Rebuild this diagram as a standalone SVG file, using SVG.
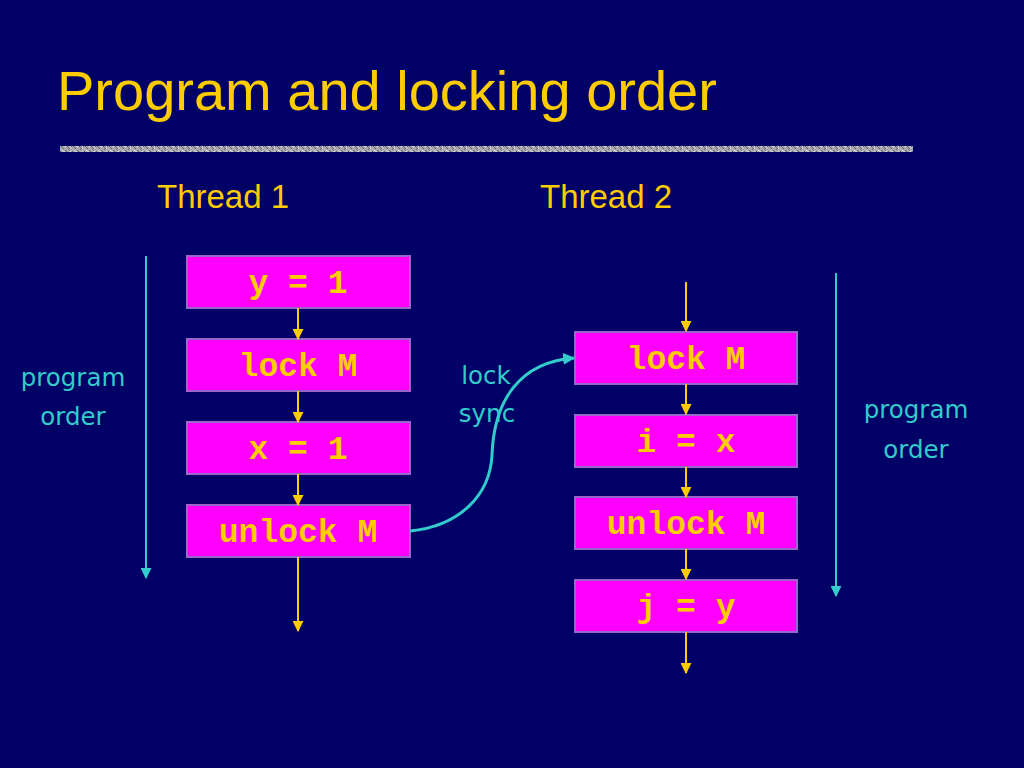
<svg xmlns="http://www.w3.org/2000/svg" width="1024" height="768" viewBox="0 0 1024 768">
<defs>
<style>
.box{fill:#FF00FF;stroke:#9966CC;stroke-width:2}
.code{font-family:"Liberation Mono",monospace;font-weight:bold;font-size:33px;fill:#FFCC00;text-anchor:middle}
.lab{font-family:"DejaVu Sans",sans-serif;font-size:24.5px;fill:#33CCCC;text-anchor:middle}
.thr{font-family:"Liberation Sans",Arial,sans-serif;font-size:33px;fill:#FFCC00}
.ya{stroke:#FFCC00;stroke-width:2;fill:none;marker-end:url(#ay)}
.ca{stroke:#33CCCC;stroke-width:2;fill:none;marker-end:url(#ac)}
</style>
<marker id="ay" viewBox="0 0 10 10" refX="9" refY="5" markerWidth="5.5" markerHeight="5.5" orient="auto" markerUnits="strokeWidth"><path d="M0,0 L10,5 L0,10 z" fill="#FFCC00"/></marker>
<marker id="ac" viewBox="0 0 10 10" refX="9" refY="5" markerWidth="5.5" markerHeight="5.5" orient="auto" markerUnits="strokeWidth"><path d="M0,0 L10,5 L0,10 z" fill="#33CCCC"/></marker>
<marker id="ac3" viewBox="0 0 10 10" refX="9" refY="5" markerWidth="4" markerHeight="4" orient="auto" markerUnits="strokeWidth"><path d="M0,0 L10,5 L0,10 z" fill="#33CCCC"/></marker>
<pattern id="tex" width="12" height="6" patternUnits="userSpaceOnUse"><rect width="12" height="6" fill="#A8A8B0"/><path d="M0,1 L4,5 M5,0 L9,4 M8,6 L12,2" stroke="#606068" stroke-width="1"/><path d="M2,0 L6,3 M10,1 L11,5" stroke="#E0E0E8" stroke-width="1"/></pattern>
</defs>
<rect width="1024" height="768" fill="#000066"/>
<text x="57" y="110" font-family="Liberation Sans,Arial,sans-serif" font-size="56" fill="#FFCC00">Program and locking order</text>
<rect x="60" y="146" width="853" height="6" fill="url(#tex)"/>
<text class="thr" x="157" y="208">Thread 1</text>
<text class="thr" x="540" y="208">Thread 2</text>
<g id="t1n1"><rect class="box" x="187" y="256" width="223" height="52"/><text class="code" x="298" y="293">y = 1</text></g>
<g id="t1n2"><rect class="box" x="187" y="339" width="223" height="52"/><text class="code" x="298" y="376">lock M</text></g>
<g id="t1n3"><rect class="box" x="187" y="422" width="223" height="52"/><text class="code" x="298" y="459">x = 1</text></g>
<g id="t1n4"><rect class="box" x="187" y="505" width="223" height="52"/><text class="code" x="298" y="542">unlock M</text></g>
<g id="t2n1"><rect class="box" x="575" y="332" width="222" height="52"/><text class="code" x="686" y="369">lock M</text></g>
<g id="t2n2"><rect class="box" x="575" y="415" width="222" height="52"/><text class="code" x="686" y="452">i = x</text></g>
<g id="t2n3"><rect class="box" x="575" y="497" width="222" height="52"/><text class="code" x="686" y="534">unlock M</text></g>
<g id="t2n4"><rect class="box" x="575" y="580" width="222" height="52"/><text class="code" x="686" y="617">j = y</text></g>
<g id="labels">
<text class="lab" x="73" y="386">program</text>
<text class="lab" x="73" y="425">order</text>
<text class="lab" x="916" y="418">program</text>
<text class="lab" x="916" y="458">order</text>
<text class="lab" x="486" y="384">lock</text>
<text class="lab" x="487" y="422">sync</text>
</g>
<g id="connectors">
<path class="ya" d="M298,308 V339"/>
<path class="ya" d="M298,391 V422"/>
<path class="ya" d="M298,474 V505"/>
<path class="ya" d="M298,557 V631"/>
<path class="ya" d="M686,282 V331"/>
<path class="ya" d="M686,384 V414"/>
<path class="ya" d="M686,467 V497"/>
<path class="ya" d="M686,549 V579"/>
<path class="ya" d="M686,632 V673"/>
<path class="ca" d="M146,256 V578"/>
<path class="ca" d="M836,273 V596"/>
<path d="M410,531 C460,526 490,495 492,455 C494,400 520,362 574,358" stroke="#33CCCC" stroke-width="3" fill="none" marker-end="url(#ac3)"/>
</g>
</svg>
